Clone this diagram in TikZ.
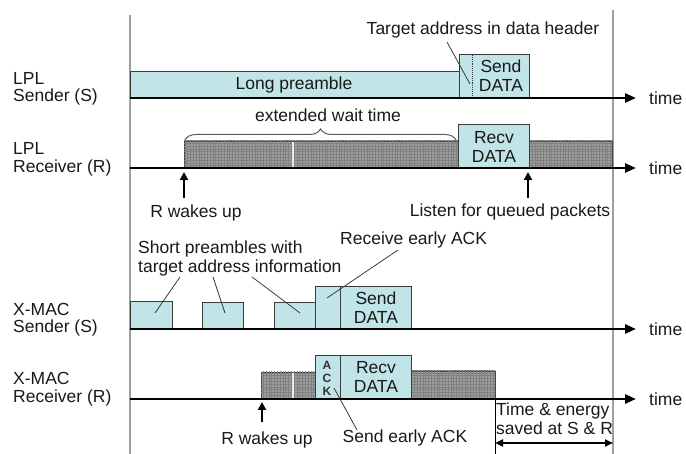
\documentclass[tikz,border=0pt]{standalone}
\usepackage{fontspec}
\setmainfont{Liberation Sans}
\usetikzlibrary{arrows.meta,fit,patterns.meta,decorations.pathreplacing}

\definecolor{pktblue}{RGB}{192,228,232}
\definecolor{listengray}{RGB}{158,158,158}
\definecolor{edgegray}{RGB}{60,60,60}

\tikzset{
  txt/.style={font=\fontsize{17.5}{19}\selectfont, inner sep=0pt, text=black!90},
  sidelbl/.style={txt, anchor=west},
  pkt/.style={draw=edgegray, line width=0.9pt, fill=pktblue, inner sep=0pt},
  listen/.style={draw=edgegray, line width=0.9pt, inner sep=0pt,
    fill=listengray,
    postaction={pattern={Hatch[angle=0,distance=2.8pt,line width=0.4pt]}, pattern color=black!50}},
  timeline/.style={line width=2.6pt, -{Triangle[length=11pt,width=9pt]}},
  border/.style={draw=gray!75, line width=1.1pt},
  leader/.style={draw=edgegray, line width=0.8pt},
  wake/.style={line width=2.2pt, -{Triangle[length=8pt,width=8pt]}},
  stripe/.style={draw=white!85!gray, line width=1.6pt},
  acklbl/.style={font=\fontsize{12}{12}\bfseries\selectfont, inner sep=0pt, text=black!80},
}

\begin{document}
\begin{tikzpicture}[x=1pt,y=-1pt]
\useasboundingbox (0,0) rectangle (686,454);

% frame lines bounding the observed interval
\coordinate (bl1) at (130,15);  \coordinate (bl2) at (130,454);
\coordinate (br1) at (613,10);  \coordinate (br2) at (613,454);
\draw[border] (bl1) -- (bl2);
\draw[border] (br1) -- (br2);

% ---------- LPL sender ----------
\node[pkt, fit={(130,71) (459,98)}] (lp) {};
\node[pkt, fit={(459,54) (529,98)}] (sd1) {};
\coordinate (dl1) at (472,55); \coordinate (dl2) at (472,97);
\draw[edgegray, line width=0.9pt, densely dotted] (dl1) -- (dl2);
\node[txt] (lptxt) at (294,85) {Long preamble};
\node[txt, align=center] (sd1txt) at (501,76) {Send\\DATA};
\node[txt] (tgt) at (483,30) {Target address in data header};
\coordinate (tgtA) at (447,42); \coordinate (tgtB) at (470,84);
\draw[leader] (tgtA) -- (tgtB);

\coordinate (t1a) at (130,98); \coordinate (t1b) at (636,98);
\draw[timeline] (t1a) -- (t1b);
\node[txt, anchor=west] (time1) at (649,98) {time};

\node[sidelbl] (l1a) at (13,78) {LPL};
\node[sidelbl] (l1b) at (13,97) {Sender (S)};

% ---------- LPL receiver ----------
\node[listen, fit={(184,141) (458,168)}] (lw) {};
\node[listen, fit={(529,141) (612,168)}] (lq) {};
\coordinate (st1a) at (293,142); \coordinate (st1b) at (293,167);
\draw[stripe] (st1a) -- (st1b);
\node[pkt, fit={(458,124) (529,168)}] (rd1) {};
\node[txt, align=center] (rd1txt) at (494,147) {Recv\\DATA};

\coordinate (brA) at (185,140); \coordinate (brB) at (456,140);
\draw[gray!70!black, line width=1pt, decorate,
      decoration={brace, amplitude=11pt, raise=0pt}] (brA) -- (brB);
\node[txt] (ewt) at (328,115) {extended wait time};

\coordinate (t2a) at (130,168); \coordinate (t2b) at (636,168);
\draw[timeline] (t2a) -- (t2b);
\node[txt, anchor=west] (time2) at (649,168) {time};

\coordinate (w1a) at (184,198); \coordinate (w1b) at (184,172);
\draw[wake] (w1a) -- (w1b);
\node[txt] (wk1) at (196,213) {R wakes up};
\coordinate (q1a) at (528,198); \coordinate (q1b) at (528,172);
\draw[wake] (q1a) -- (q1b);
\node[txt] (lq1) at (510,212) {Listen for queued packets};

\node[sidelbl] (l2a) at (13,148) {LPL};
\node[sidelbl] (l2b) at (13,168) {Receiver (R)};

% ---------- X-MAC sender ----------
\node[pkt, fit={(130,301) (172,329)}] (sp1) {};
\node[pkt, fit={(202,302) (243,329)}] (sp2) {};
\node[pkt, fit={(274,302) (315,329)}] (sp3) {};
\node[pkt, fit={(315,286) (340,329)}] (eak) {};
\node[pkt, fit={(340,286) (411,329)}] (sd2) {};
\node[txt, align=center] (sd2txt) at (376,308) {Send\\DATA};

\node[txt, align=left, anchor=north west] (sptxt) at (138,241)
  {Short preambles with\\target address information};
\coordinate (ls1a) at (180,277); \coordinate (ls1b) at (155,313);
\coordinate (ls2a) at (213,277); \coordinate (ls2b) at (225,313);
\coordinate (ls3a) at (252,277); \coordinate (ls3b) at (300,313);
\draw[leader] (ls1a) -- (ls1b);
\draw[leader] (ls2a) -- (ls2b);
\draw[leader] (ls3a) -- (ls3b);
\node[txt, anchor=west] (reak) at (340,240) {Receive early ACK};
\coordinate (lr1a) at (398,250); \coordinate (lr1b) at (327,298);
\draw[leader] (lr1a) -- (lr1b);

\coordinate (t3a) at (130,329); \coordinate (t3b) at (636,329);
\draw[timeline] (t3a) -- (t3b);
\node[txt, anchor=west] (time3) at (649,329) {time};

\node[sidelbl] (l3a) at (13,309) {X-MAC};
\node[sidelbl] (l3b) at (13,328) {Sender (S)};

% ---------- X-MAC receiver ----------
\node[listen, fit={(261,372) (315,399)}] (xw) {};
\node[listen, fit={(411,371) (495,399)}] (xq) {};
\coordinate (st2a) at (293,373); \coordinate (st2b) at (293,398);
\draw[stripe] (st2a) -- (st2b);
\node[pkt, fit={(315,355) (340,399)}] (sak) {};
\node[pkt, fit={(340,355) (411,399)}] (rd2) {};
\node[acklbl] (ackA) at (327,365) {A};
\node[acklbl] (ackC) at (327,378) {C};
\node[acklbl] (ackK) at (327,391) {K};
\node[txt, align=center] (rd2txt) at (376,377) {Recv\\DATA};

\coordinate (ls4a) at (334,388); \coordinate (ls4b) at (357,430);
\draw[leader] (ls4a) -- (ls4b);
\node[txt] (seak) at (405,438) {Send early ACK};

\coordinate (t4a) at (130,399); \coordinate (t4b) at (636,399);
\draw[timeline] (t4a) -- (t4b);
\node[txt, anchor=west] (time4) at (649,399) {time};

\coordinate (w2a) at (262,422); \coordinate (w2b) at (262,402);
\draw[wake] (w2a) -- (w2b);
\node[txt] (wk2) at (267,440) {R wakes up};

% saved interval
\coordinate (sv1) at (495,399); \coordinate (sv2) at (495,454);
\draw[black, line width=1pt] (sv1) -- (sv2);
\node[txt, align=left, anchor=north west] (sav) at (496,403)
  {Time \& energy\\saved at S \& R};
\coordinate (da) at (495,443); \coordinate (db) at (613,443);
\draw[line width=2pt, {Triangle[length=8pt,width=7pt]}-{Triangle[length=8pt,width=7pt]}] (da) -- (db);

\node[sidelbl] (l4a) at (13,378) {X-MAC};
\node[sidelbl] (l4b) at (13,398) {Receiver (R)};
\end{tikzpicture}
\end{document}
